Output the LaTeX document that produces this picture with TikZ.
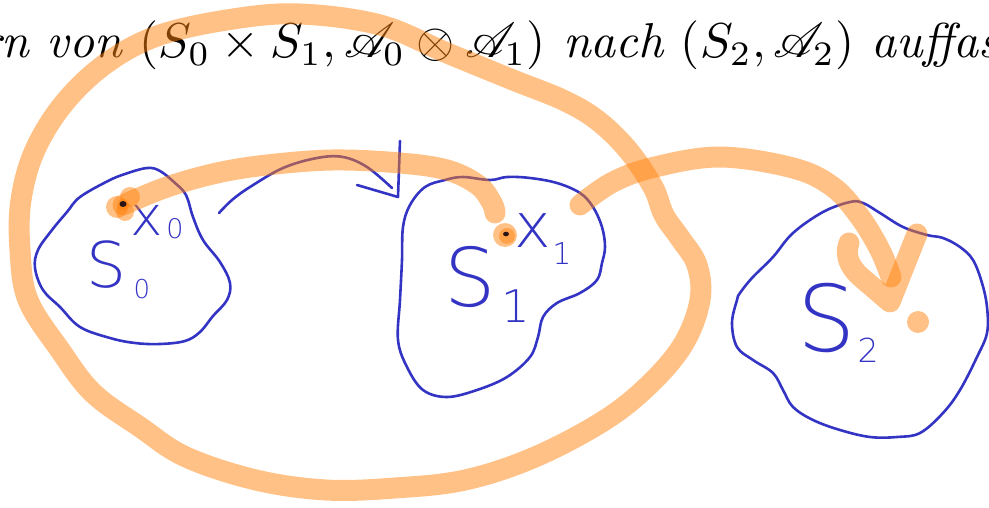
\documentclass[tikz,border=0pt]{standalone}
\usepackage{fontspec}
\usepackage{mathrsfs}
\newfontfamily\handfont{DejaVuSans-ExtraLight.ttf}
\definecolor{pen}{RGB}{52,52,196}
\definecolor{hl}{RGB}{255,131,13}
\definecolor{ink}{RGB}{40,20,20}
\begin{document}
\begin{tikzpicture}[x=1pt,y=-1pt,
  blueline/.style={draw=pen, line width=2.6pt, line cap=round, line join=round},
  marker/.style={draw=hl, draw opacity=0.5, line width=21pt, line cap=round, line join=round},
  markdot/.style={fill=hl, fill opacity=0.5},
  hand/.style={text=pen, inner sep=0pt, font=\handfont}]
\useasboundingbox (0,0) rectangle (989,508);

% title text
\node[anchor=base west, inner sep=0pt, scale=4.9] (title) at (-20,58)
  {\itshape rn von $(S_0\times S_1,\mathscr{A}_0\otimes\mathscr{A}_1)$ nach $(S_2,\mathscr{A}_2)$ auffas};

% blobs
\draw[blueline] plot[smooth cycle, tension=0.6] coordinates {
  (80,197) (108,181) (125,174) (147,168) (160,171) (175,183) (186,195) (193,217)
  (203,240) (220,262) (230,283) (227,300) (213,316) (200,332) (185,341) (160,344)
  (135,343) (110,338) (80,327) (60,307) (43,290) (35,268) (38,250) (52,230) (67,212)};
\draw[blueline] plot[smooth cycle, tension=0.6] coordinates {
  (410,205) (425,187) (445,180) (463,177) (490,180) (507,177) (530,178) (557,183)
  (580,193) (593,207) (602,227) (605,247) (602,263) (597,280) (580,293) (557,303)
  (543,317) (538,337) (530,357) (507,377) (477,390) (447,397) (423,390) (407,367)
  (398,340) (400,300) (402,260) (403,227)};
\draw[blueline] plot[smooth cycle, tension=0.6] coordinates {
  (740,293) (752,278) (773,257) (793,233) (823,212) (850,202) (863,203) (880,213)
  (903,227) (927,235) (943,238) (960,247) (973,260) (982,283) (987,307) (987,333)
  (977,357) (960,390) (943,413) (920,433) (897,437) (870,437) (840,430) (813,420)
  (793,407) (783,390) (773,373) (753,360) (737,347) (732,323) (737,300)};

% blue arrow
\draw[blueline] plot[smooth, tension=0.6] coordinates {
  (219,213) (232,200) (250,187) (283,168) (317,158) (343,157) (367,167) (392,188)};
\draw[blueline] (357,185) -- (398,197) -- (400,141);

% handwritten labels
\node[hand] (s0) at (106,265) {\fontsize{63}{63}\selectfont S};
\node[hand] (s0i) at (142,289) {\fontsize{26}{26}\selectfont 0};
\node[hand] (x0) at (147,220) {\fontsize{55}{55}\selectfont x};
\node[hand] (x0i) at (175,229) {\fontsize{27}{27}\selectfont 0};
\node[hand] (s1) at (470,277) {\fontsize{81}{81}\selectfont S};
\node[hand] (s1i) at (516,306) {\fontsize{45}{45}\selectfont 1};
\node[hand] (x1) at (533,231) {\fontsize{62}{62}\selectfont x};
\node[hand] (x1i) at (562,254) {\fontsize{30}{30}\selectfont 1};
\node[hand] (s2) at (827,318) {\fontsize{92}{92}\selectfont S};
\node[hand] (s2i) at (868,350) {\fontsize{33}{33}\selectfont 2};

% orange marker strokes
\draw[marker] plot[smooth cycle, tension=0.6] coordinates {
  (653,187) (628,150) (597,120) (563,100) (513,80) (447,53) (380,25) (300,14)
  (233,19) (160,35) (108,62) (65,102) (35,150) (21,200) (20,250) (28,300) (60,350)
  (93,393) (140,427) (186,457) (256,480) (326,490) (395,488) (465,480) (535,457)
  (605,420) (651,383) (684,343) (700,300) (697,265) (680,238) (664,215)};
\draw[marker] plot[smooth, tension=0.6] coordinates {
  (123,205) (167,187) (217,173) (267,165) (333,160) (400,163) (447,170) (478,185)
  (492,203) (495,213)};
\draw[marker] plot[smooth, tension=0.6] coordinates {
  (580,205) (613,182) (655,167) (720,157) (793,168) (833,187) (860,217) (880,250) (891,277)};
\draw[marker] (849,243) to[out=-110,in=140] (862,278) -- (890,302) -- (917,234);
\fill[markdot] (918,322) circle (11);

% point x0
\fill[markdot] (117,207) circle (11);
\fill[markdot] (130,197) circle (10);
\fill[markdot] (125,212) circle (9);
\fill[markdot] (123,205) circle (6);
\fill[ink] (123,204) ellipse (3.5 and 3);
% point x1
\fill[markdot] (505,235) circle (12);
\fill[markdot] (507,236) circle (8);
\fill[ink] (506,234) ellipse (3 and 2.3);
\end{tikzpicture}
\end{document}
